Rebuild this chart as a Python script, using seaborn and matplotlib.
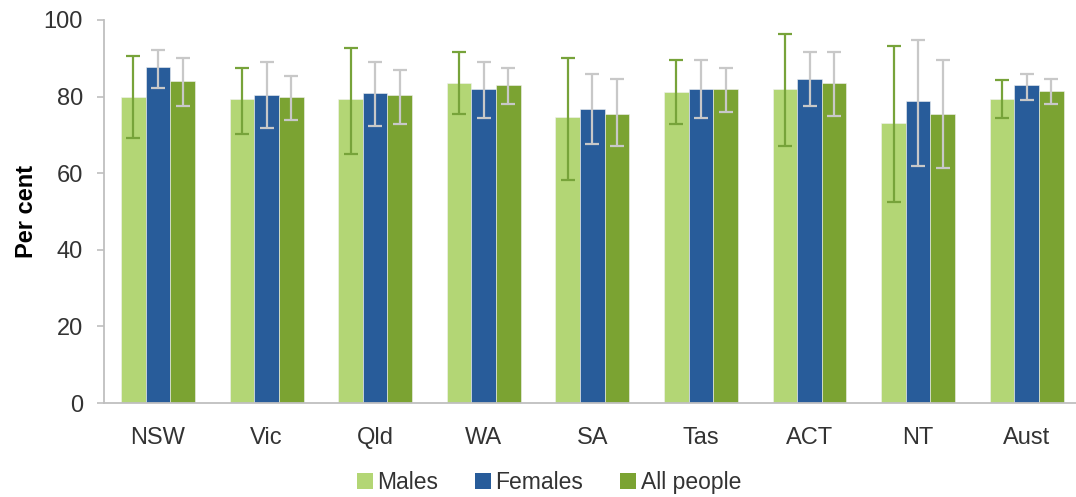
import pandas as pd
import numpy as np
import seaborn as sns
import matplotlib.pyplot as plt
from matplotlib.patches import Patch

# data (per cent, with 95% CI bounds)
states = ['NSW', 'Vic', 'Qld', 'WA', 'SA', 'Tas', 'ACT', 'NT', 'Aust']
groups = ['Males', 'Females', 'All people']

males = [79.8, 79.3, 79.3, 83.5, 74.6, 81.3, 81.9, 73.0, 79.3]
males_lo = [69.3, 70.2, 64.9, 75.4, 58.1, 72.8, 67.1, 52.4, 74.4]
males_hi = [90.7, 87.5, 92.7, 91.6, 90.1, 89.6, 96.3, 93.2, 84.3]

females = [87.7, 80.4, 80.9, 81.9, 76.7, 81.9, 84.5, 78.8, 82.9]
females_lo = [82.2, 71.7, 72.2, 74.3, 67.5, 74.3, 77.5, 61.8, 79.1]
females_hi = [92.2, 89.1, 89.1, 89.1, 85.8, 89.6, 91.6, 94.8, 85.9]

allp = [84.1, 79.8, 80.3, 82.9, 75.5, 81.9, 83.5, 75.5, 81.4]
allp_lo = [77.5, 73.9, 72.8, 78.0, 67.0, 75.9, 74.9, 61.3, 78.0]
allp_hi = [90.1, 85.4, 86.9, 87.5, 84.5, 87.5, 91.6, 89.6, 84.5]

colors = ['#B3D675', '#285C9A', '#7BA332']
err_colors = ['#77A33A', '#C8C8C8', '#C8C8C8']

df = pd.DataFrame({
    'state': states * 3,
    'group': np.repeat(groups, len(states)),
    'pct': males + females + allp,
    'lo': males_lo + females_lo + allp_lo,
    'hi': males_hi + females_hi + allp_hi,
})

sns.set_style('white')
plt.rcParams['font.family'] = ['Liberation Sans', 'DejaVu Sans']

fig = plt.figure(figsize=(10.76, 4.97), dpi=100)
ax = fig.add_axes([103.7 / 1076, 1 - 403 / 497, (1081 - 103.7) / 1076, (403 - 20) / 497])

sns.barplot(data=df, x='state', y='pct', hue='group', palette=colors,
            saturation=1, width=0.68, errorbar=None, legend=False, ax=ax,
            edgecolor='#F2F2F2', linewidth=0.4)

for cont, g, ec in zip(ax.containers, groups, err_colors):
    sub = df[df['group'] == g]
    xs = [p.get_x() + p.get_width() / 2 for p in cont]
    vals = sub['pct'].values
    yerr = [vals - sub['lo'].values, sub['hi'].values - vals]
    ax.errorbar(xs, vals, yerr=yerr, fmt='none', ecolor=ec, elinewidth=1.6,
                capsize=5, capthick=1.6, zorder=3)

ax.set_ylim(0, 100)
ax.set_yticks(range(0, 101, 20))
ax.set_xlim(-0.5, len(states) - 0.5)
ax.set_xlabel('')
ax.set_ylabel('Per cent', fontsize=17, fontweight='bold', color='black', labelpad=4)

for s in ['top', 'right']:
    ax.spines[s].set_visible(False)
ax.spines['left'].set_color('#BFBFBF')
ax.spines['bottom'].set_color('#BFBFBF')
ax.spines['left'].set_linewidth(1.3)
ax.spines['bottom'].set_linewidth(1.3)
ax.tick_params(axis='y', which='both', left=True, length=5, width=1.2,
               color='#BFBFBF', labelsize=17, labelcolor='#333333', pad=10)
ax.tick_params(axis='x', bottom=False, labelsize=17, labelcolor='#333333', pad=14)

handles = [Patch(facecolor=c, edgecolor='none') for c in colors]
fig.legend(handles, groups, loc='lower center', bbox_to_anchor=(0.51, -0.035),
           ncol=3, frameon=False, fontsize=16.5, handlelength=0.7, handleheight=0.7,
           handletextpad=0.2, columnspacing=1.6, labelcolor='#333333')

fig.savefig('out.png', dpi=100)
